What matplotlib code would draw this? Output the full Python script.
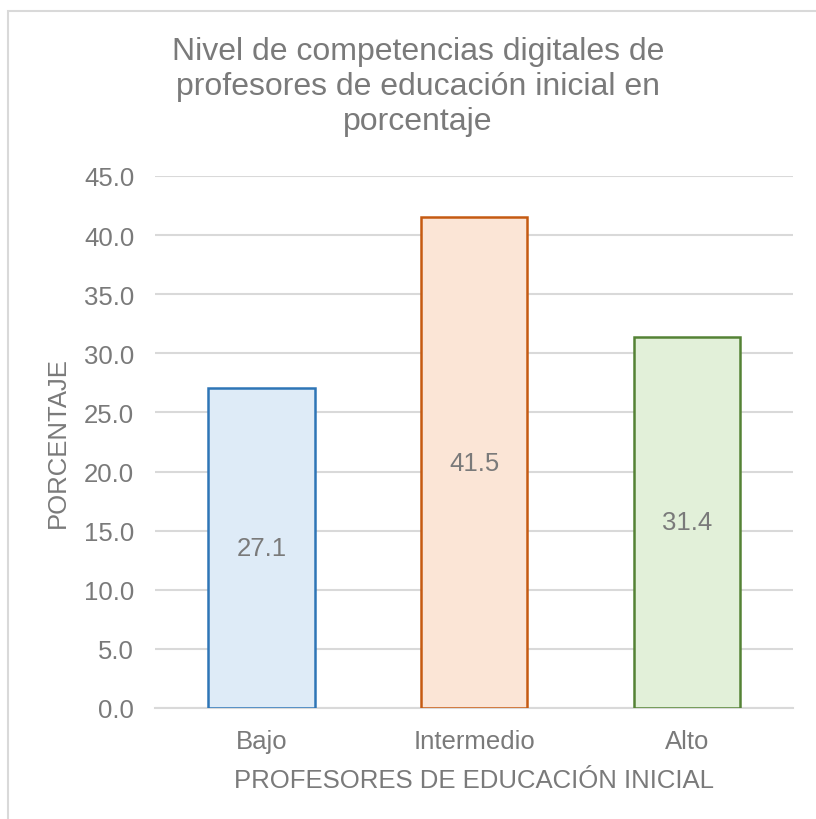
import matplotlib.pyplot as plt
from matplotlib.patches import Rectangle

plt.rcParams['font.family'] = ['Liberation Sans', 'DejaVu Sans']

# datos
categorias = ['Bajo', 'Intermedio', 'Alto']
porcentajes = [27.1, 41.5, 31.4]
y_ticks = [0, 5, 10, 15, 20, 25, 30, 35, 40, 45]

# colores estilo Excel
C_TEXTO = '#7a7a7a'
C_GRID = '#d9d9d9'
rellenos = ['#deebf7', '#fbe5d6', '#e2f0d9']
bordes = ['#2e75b6', '#c55a11', '#548235']
FS = 18.5

fig = plt.figure(figsize=(8.16, 8.2), dpi=100)
ax = fig.add_axes([155 / 816, 1 - 709 / 820, 638 / 816, 532 / 820])

# marco del gráfico
fig.patches.append(Rectangle((8 / 816, -0.02), 1.0, 1 - 12 / 820 + 0.02,
                             transform=fig.transFigure, fill=False,
                             ec='#d9d9d9', lw=1.5, zorder=0))

x = range(len(categorias))
ax.bar(x, porcentajes, width=0.5, color=rellenos, edgecolor=bordes,
       linewidth=1.8, zorder=3)
for xi, v in zip(x, porcentajes):
    ax.text(xi, v / 2, f'{v:.1f}', ha='center', va='center',
            fontsize=FS, color=C_TEXTO, zorder=4)

ax.set_xlim(-0.5, 2.5)
ax.set_ylim(0, 45)
ax.set_yticks(y_ticks)
ax.set_yticklabels([f'{t:.1f}' for t in y_ticks])
ax.set_xticks(list(x))
ax.set_xticklabels(categorias)
ax.tick_params(axis='y', length=0, pad=15, labelsize=FS, labelcolor=C_TEXTO)
ax.tick_params(axis='x', length=0, pad=15, labelsize=FS, labelcolor=C_TEXTO)
ax.yaxis.grid(True, color=C_GRID, lw=1.5, zorder=0)
ax.set_axisbelow(True)
for s in ['top', 'right', 'left']:
    ax.spines[s].set_visible(False)
ax.spines['bottom'].set_color(C_GRID)
ax.spines['bottom'].set_linewidth(1.5)

ax.set_ylabel('PORCENTAJE', fontsize=FS, color=C_TEXTO)
ax.yaxis.set_label_coords(-0.133, 0.5)
ax.set_xlabel('PROFESORES DE EDUCACIÓN INICIAL', fontsize=FS, color=C_TEXTO)
ax.xaxis.set_label_coords(0.5, -0.112)

fig.text(418 / 816, 1 - 87 / 820,
         'Nivel de competencias digitales de\nprofesores de educación inicial en\nporcentaje',
         ha='center', va='center', fontsize=23, color=C_TEXTO, linespacing=1.2)

fig.savefig('out.png', dpi=100, facecolor='white')
